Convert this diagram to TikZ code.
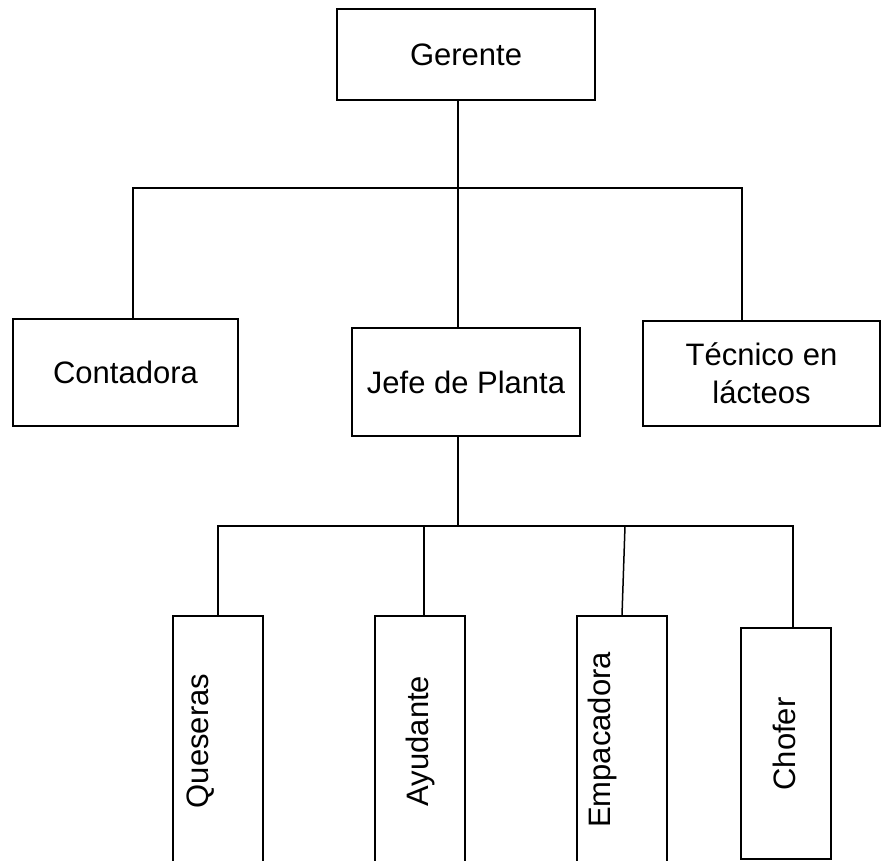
\documentclass[tikz,border=0pt]{standalone}
\usepackage{fontspec}
\setmainfont{Liberation Sans}
\newcommand{\puestofont}{\fontsize{31}{38}\selectfont}

\begin{document}
\begin{tikzpicture}[x=1pt, y=-1pt]
        \tikzstyle{every node} = [align=center, font=\puestofont, inner sep=0pt]
        \tikzstyle{puesto} = [draw, rectangle, line width=1.5pt]
        \tikzstyle{linea} = [line width=1.5pt]
        \clip (0,0) rectangle (883,861);

        % primer nivel
        \node[puesto, minimum width=258pt, minimum height=91pt](gerente) at (466,54.5){Gerente};
        \node[puesto, minimum width=225pt, minimum height=107pt](contadora) at (125.5,372.5){Contadora};
        \node[puesto, minimum width=228pt, minimum height=108pt](jefe) at (466,382){Jefe de Planta};
        \node[puesto, minimum width=237pt, minimum height=105pt](tecnico) at (761.5,373.5){Técnico en\\lácteos};

        % segundo nivel
        \node[puesto, minimum width=90pt, minimum height=254pt](queseras) at (218,743){};
        \node[puesto, minimum width=90pt, minimum height=254pt](ayudante) at (420,743){};
        \node[puesto, minimum width=90pt, minimum height=254pt](empacadora) at (622,743){};
        \node[puesto, minimum width=90pt, minimum height=231pt](chofer) at (786,743.5){};
        \node[rotate=90](queserastxt) at (201,741){Queseras};
        \node[rotate=90](ayudantetxt) at (420,741){Ayudante};
        \node[rotate=90](empacadoratxt) at (602,740){Empacadora};
        \node[rotate=90](chofertxt) at (784,744){Chofer};

        \coordinate(b1) at (458,188);
        \coordinate(c1) at (133,188);
        \coordinate(t1) at (742,188);
        \draw[linea] (gerente.south -| b1) -- (b1);
        \draw[linea] (b1) -- (jefe.north -| b1);
        \draw[linea] (contadora.north -| c1) |- (t1) -- (tecnico.north -| t1);

        \coordinate(b2) at (458,526);
        \coordinate(a2) at (424,526);
        \coordinate(e2) at (625,526);
        \coordinate(ch2) at (793,526);
        \draw[linea] (jefe.south -| b2) -- (b2);
        \draw[linea] (queseras.north) |- (ch2) -- (chofer.north -| ch2);
        \draw[linea] (a2) -- (ayudante.north -| a2);
        \draw[linea] (e2) -- (empacadora.north);
\end{tikzpicture}
\end{document}
